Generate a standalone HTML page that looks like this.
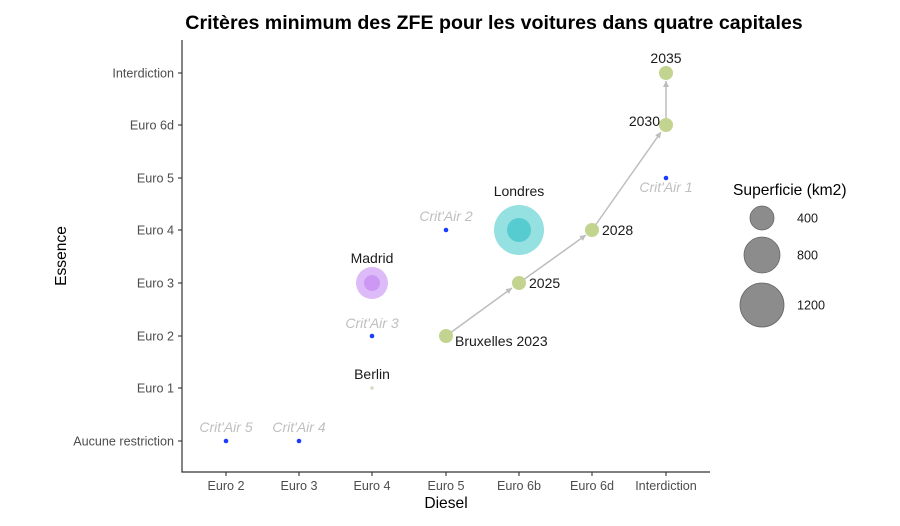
<!DOCTYPE html>
<html><head><meta charset="utf-8"><style>
html,body{margin:0;padding:0;background:#fff;}
svg{display:block;font-family:"Liberation Sans",sans-serif;}
</style></head><body>
<svg width="900" height="526" viewBox="0 0 900 526" xmlns="http://www.w3.org/2000/svg">
<defs><marker id="ar" markerWidth="8" markerHeight="8" refX="6" refY="3" orient="auto" markerUnits="userSpaceOnUse"><path d="M0,0 L6,3 L0,6 z" fill="#bdbdbd"/></marker></defs>
<text x="494" y="29" text-anchor="middle" font-size="19.6" font-weight="bold" fill="#000">Critères minimum des ZFE pour les voitures dans quatre capitales</text>
<line x1="182" y1="40" x2="182" y2="472" stroke="#333" stroke-width="1.2"/>
<line x1="181.4" y1="472" x2="710" y2="472" stroke="#333" stroke-width="1.2"/>
<g stroke="#333" stroke-width="1.1">
<line x1="178" y1="441" x2="182" y2="441"/><line x1="178" y1="388" x2="182" y2="388"/><line x1="178" y1="336" x2="182" y2="336"/><line x1="178" y1="283" x2="182" y2="283"/><line x1="178" y1="230" x2="182" y2="230"/><line x1="178" y1="178" x2="182" y2="178"/><line x1="178" y1="125" x2="182" y2="125"/><line x1="178" y1="73" x2="182" y2="73"/>
<line x1="226" y1="472" x2="226" y2="476"/><line x1="299" y1="472" x2="299" y2="476"/><line x1="372" y1="472" x2="372" y2="476"/><line x1="446" y1="472" x2="446" y2="476"/><line x1="519" y1="472" x2="519" y2="476"/><line x1="592" y1="472" x2="592" y2="476"/><line x1="666" y1="472" x2="666" y2="476"/>
</g>
<g font-size="12.6" fill="#4d4d4d" text-anchor="end">
<text x="174" y="445.5">Aucune restriction</text><text x="174" y="392.5">Euro 1</text><text x="174" y="340.5">Euro 2</text><text x="174" y="287.5">Euro 3</text><text x="174" y="234.5">Euro 4</text><text x="174" y="182.5">Euro 5</text><text x="174" y="129.5">Euro 6d</text><text x="174" y="77.5">Interdiction</text>
</g>
<g font-size="12.6" fill="#4d4d4d" text-anchor="middle">
<text x="226" y="490">Euro 2</text><text x="299" y="490">Euro 3</text><text x="372" y="490">Euro 4</text><text x="446" y="490">Euro 5</text><text x="519" y="490">Euro 6b</text><text x="592" y="490">Euro 6d</text><text x="666" y="490">Interdiction</text>
</g>
<text x="446" y="508" text-anchor="middle" font-size="15.6" fill="#000">Diesel</text>
<text transform="translate(66,256) rotate(-90)" text-anchor="middle" font-size="15.6" fill="#000">Essence</text>
<g fill="#1a3cff">
<circle cx="226" cy="441" r="2.3"/><circle cx="299" cy="441" r="2.3"/><circle cx="372" cy="336" r="2.3"/><circle cx="446" cy="230" r="2.3"/><circle cx="666" cy="178" r="2.3"/>
</g>
<g font-size="14" fill="#bfbfbf" font-style="italic" text-anchor="middle">
<text x="226" y="432">Crit'Air 5</text><text x="299" y="432">Crit'Air 4</text><text x="372" y="328">Crit'Air 3</text><text x="446" y="221">Crit'Air 2</text><text x="666" y="192">Crit'Air 1</text>
</g>
<circle cx="372" cy="388" r="1.8" fill="#d5dcc0"/>
<text x="372" y="379" text-anchor="middle" font-size="14" fill="#1a1a1a">Berlin</text>
<circle cx="372" cy="283" r="16" fill="#d9b3f7" opacity="0.9"/>
<circle cx="372" cy="283" r="8" fill="#c98ef2" opacity="0.8"/>
<text x="372" y="263" text-anchor="middle" font-size="14" fill="#1a1a1a">Madrid</text>
<circle cx="519" cy="230" r="25" fill="#8fdede" opacity="0.95"/>
<circle cx="519" cy="230" r="12" fill="#4cc8cc" opacity="0.85"/>
<text x="519" y="196" text-anchor="middle" font-size="14" fill="#1a1a1a">Londres</text>
<g stroke="#bdbdbd" stroke-width="1.5" fill="none">
<line x1="446" y1="336" x2="512" y2="288" marker-end="url(#ar)"/>
<line x1="519" y1="283" x2="586" y2="235" marker-end="url(#ar)"/>
<line x1="592" y1="230" x2="661" y2="132" marker-end="url(#ar)"/>
<line x1="666" y1="125" x2="666" y2="81" marker-end="url(#ar)"/>
</g>
<g fill="#c2d48f">
<circle cx="446" cy="336" r="7"/><circle cx="519" cy="283" r="7"/><circle cx="592" cy="230" r="7"/><circle cx="666" cy="125" r="7"/><circle cx="666" cy="73" r="7"/>
</g>
<g font-size="14" fill="#1a1a1a">
<text x="455" y="346">Bruxelles 2023</text><text x="529" y="288">2025</text><text x="602" y="235">2028</text><text x="660" y="126" text-anchor="end">2030</text><text x="666" y="63" text-anchor="middle">2035</text>
</g>
<text x="733" y="195" font-size="15.6" fill="#000">Superficie (km2)</text>
<g fill="#8c8c8c" stroke="#666" stroke-width="0.8">
<circle cx="762" cy="218" r="12"/><circle cx="762" cy="255" r="18"/><circle cx="762" cy="305" r="22"/>
</g>
<g font-size="12.6" fill="#1a1a1a">
<text x="797" y="222.5">400</text><text x="797" y="259.5">800</text><text x="797" y="309.5">1200</text>
</g>
</svg>
</body></html>
